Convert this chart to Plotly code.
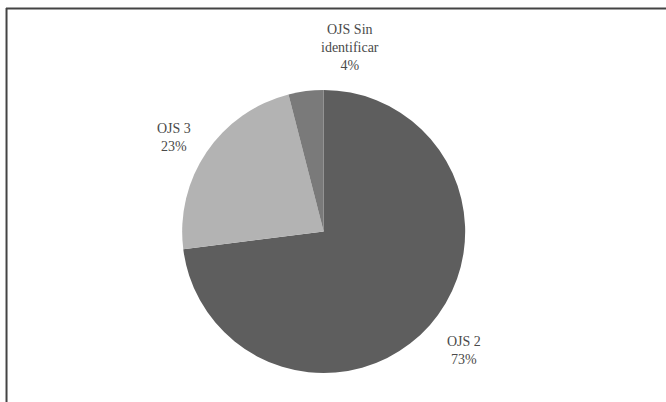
import plotly.graph_objects as go

labels = ["OJS 2", "OJS 3", "OJS Sin<br>identificar"]
values = [73, 23, 4]
colors = ["#5e5e5e", "#b3b3b3", "#7a7a7a"]

# label anchor positions (paper coordinates), kept apart from the data
label_pos = [(0.697, 0.127), (0.261, 0.659), (0.5255, 0.883)]

total = sum(values)

fig = go.Figure(go.Pie(
    labels=labels,
    values=values,
    sort=False,
    direction="clockwise",
    rotation=0,
    marker=dict(colors=colors, line=dict(width=0)),
    textinfo="none",
    showlegend=False,
    domain=dict(x=[0.2735, 0.6985], y=[0.072, 0.776]),
    hoverinfo="skip",
))

annotations = []
for lab, val, (px, py) in zip(labels, values, label_pos):
    annotations.append(dict(
        x=px, y=py, xref="paper", yref="paper",
        text=f"{lab}<br>{round(100 * val / total)}%",
        showarrow=False, xanchor="center", yanchor="middle", align="center",
        font=dict(family="Liberation Serif", size=14, color="#4a4a4a"),
    ))

fig.update_layout(
    width=666, height=402,
    margin=dict(l=0, r=0, t=0, b=0),
    paper_bgcolor="white",
    plot_bgcolor="white",
    annotations=annotations,
    shapes=[
        dict(type="line", xref="paper", yref="paper", x0=0.009, x1=1.0, y0=0.979, y1=0.979,
             line=dict(color="#444444", width=2)),
        dict(type="line", xref="paper", yref="paper", x0=0.0098, x1=0.0098, y0=0.0, y1=0.98,
             line=dict(color="#444444", width=2)),
    ],
)

fig.write_html("out.html", config={"displayModeBar": False},
               post_script="document.body.style.margin='0';")
